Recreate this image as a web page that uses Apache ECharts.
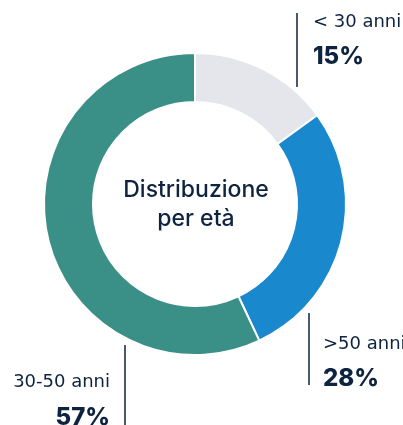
<!DOCTYPE html>
<html>
<head>
<meta charset="utf-8">
<script src="https://cdn.jsdelivr.net/npm/echarts@6/dist/echarts.min.js"></script>
<style>
  html, body { margin: 0; padding: 0; background: #ffffff; }
  #chart { width: 403px; height: 425px; }
</style>
</head>
<body>
<div id="chart"></div>
<script>
// Age groups and their share of the total (%)
const categories = ['< 30 anni', '>50 anni', '30-50 anni'];
const shares = [15, 28, 57];
const colors = ['#e4e6ec', '#1a88cc', '#3a8f87'];
const centerTitle = 'Distribuzione\nper età';

const ink = '#0d2340';
const nameFont = '400 18px "DejaVu Sans", sans-serif';
const pctFont = '800 24px Inter, "Noto Sans", sans-serif';
const titleFont = '500 23px Inter, "Noto Sans", sans-serif';

// Callout placement for each group: leader line and text block
const callouts = [
  { lineX: 297, lineY1: 13, lineY2: 87, textX: 313, nameY: 22, pctY: 57, align: 'left' },
  { lineX: 309, lineY1: 313, lineY2: 385, textX: 323, nameY: 344, pctY: 379, align: 'left' },
  { lineX: 125, lineY1: 345, lineY2: 425, textX: 110, nameY: 382, pctY: 418, align: 'right' }
];

const graphics = [];
callouts.forEach((c, i) => {
  graphics.push({
    type: 'line',
    shape: { x1: c.lineX, y1: c.lineY1, x2: c.lineX, y2: c.lineY2 },
    style: { stroke: ink, lineWidth: 1.5 }
  });
  graphics.push({
    type: 'text',
    x: c.textX, y: c.nameY,
    style: {
      text: categories[i], fill: ink, font: nameFont,
      textAlign: c.align, textVerticalAlign: 'middle'
    }
  });
  graphics.push({
    type: 'text',
    x: c.textX, y: c.pctY,
    style: {
      text: shares[i] + '%', fill: ink, font: pctFont,
      textAlign: c.align, textVerticalAlign: 'middle'
    }
  });
});

graphics.push({
  type: 'text',
  x: 196, y: 205,
  style: {
    text: centerTitle, fill: ink, font: titleFont,
    textAlign: 'center', textVerticalAlign: 'middle', lineHeight: 29
  }
});

const chart = echarts.init(document.getElementById('chart'), null, { renderer: 'canvas' });
chart.setOption({
  animation: false,
  backgroundColor: '#ffffff',
  graphic: graphics,
  series: [{
    type: 'pie',
    center: [195, 204],
    radius: [102, 151],
    startAngle: 90,
    clockwise: true,
    silent: true,
    label: { show: false },
    labelLine: { show: false },
    itemStyle: { borderColor: '#ffffff', borderWidth: 2 },
    data: categories.map((name, i) => ({
      name, value: shares[i], itemStyle: { color: colors[i] }
    }))
  }]
});
</script>
</body>
</html>
